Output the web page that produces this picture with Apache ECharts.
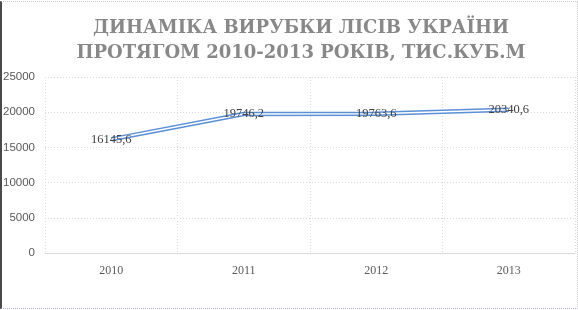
<!DOCTYPE html>
<html><head><meta charset="utf-8">
<script src="https://cdn.jsdelivr.net/npm/echarts@6/dist/echarts.min.js"></script>
<style>
html,body{margin:0;padding:0;background:#fff;}
#c{position:absolute;left:0;top:0;width:578px;height:310px;}
#b{position:absolute;left:0;top:1px;width:575px;height:306px;border-left:2px solid #4a4a4a;border-top:1px dotted #c8c8c8;border-right:1px dotted #c8c8c8;border-bottom:1px dotted #b8b8d8;pointer-events:none;}
</style></head>
<body><div id="c"></div><div id="b"></div>
<script>
const titleText = 'ДИНАМІКА ВИРУБКИ ЛІСІВ УКРАЇНИ\nПРОТЯГОМ 2010-2013 РОКІВ, ТИС.КУБ.М';
const categories = ['2010', '2011', '2012', '2013'];
const values = [16145.6, 19746.2, 19763.6, 20340.6];
const labels = ['16145,6', '19746,2', '19763,6', '20340,6'];
const yTicks = [0, 5000, 10000, 15000, 20000, 25000];

const chart = echarts.init(document.getElementById('c'), null, {renderer: 'canvas'});
chart.setOption({
  animation: false,
  title: {
    text: titleText,
    left: 296,
    textAlign: 'center',
    top: 11,
    textStyle: {
      fontFamily: '"DejaVu Serif", serif',
      fontSize: 18,
      fontWeight: 'bold',
      color: '#888888',
      lineHeight: 25
    }
  },
  grid: {left: 45, right: 3, top: 77, bottom: 57, containLabel: false},
  xAxis: {
    type: 'category',
    data: categories,
    boundaryGap: true,
    axisLine: {show: true, lineStyle: {color: '#d9d9d9', width: 1}},
    axisTick: {show: false},
    splitLine: {show: true, lineStyle: {color: '#d9d9d9', type: [1, 2]}},
    axisLabel: {color: '#595959', fontFamily: '"Liberation Serif", serif', fontSize: 12, margin: 12}
  },
  yAxis: {
    type: 'value',
    min: yTicks[0],
    max: yTicks[yTicks.length - 1],
    interval: yTicks[1] - yTicks[0],
    axisLine: {show: false},
    axisTick: {show: false},
    splitLine: {show: true, lineStyle: {color: '#d9d9d9', type: [1, 2]}},
    axisLabel: {color: '#595959', fontFamily: '"Liberation Sans", sans-serif', fontSize: 11.5, margin: 10, formatter: v => String(v)}
  },
  series: [
    {
      type: 'line',
      data: values,
      symbol: 'none',
      lineStyle: {color: '#5b8fd6', width: 4.5},
      z: 2
    },
    {
      type: 'line',
      data: values,
      symbol: 'circle',
      symbolSize: 1,
      itemStyle: {opacity: 0},
      lineStyle: {color: '#ffffff', width: 1.5},
      z: 3,
      label: {
        show: true,
        position: 'inside',
        formatter: p => labels[p.dataIndex],
        color: '#404040',
        opacity: 1,
        fontFamily: '"Liberation Serif", serif',
        fontSize: 12.5
      },
      labelLayout: {hideOverlap: false}
    }
  ]
});
</script></body></html>
